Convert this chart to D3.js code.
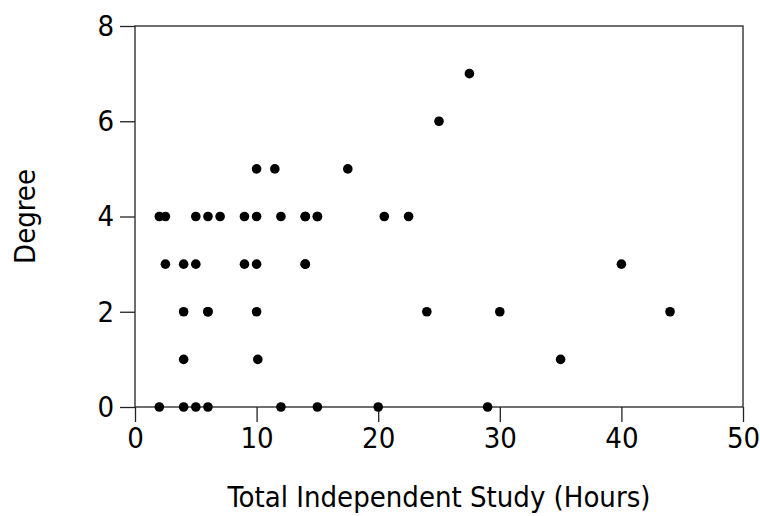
<!DOCTYPE html>
<html>
<head>
<meta charset="utf-8">
<script src="https://cdn.jsdelivr.net/npm/d3@7"></script>
<style>
  body { margin: 0; background: #fff; }
  text { font-family: "DejaVu Sans Condensed", "DejaVu Sans", sans-serif; }
</style>
</head>
<body>
<div id="chart"></div>
<script>
// hours of independent study vs degree
var hours = [2, 2.5, 5, 6, 7, 9, 10, 12, 14, 15, 14, 15, 20.5, 22.5,
             2.5, 4, 5, 9, 10, 14, 14,
             4, 6, 6, 10, 24, 30, 44,
             4, 10.1, 35,
             2, 4, 5, 6, 12, 15, 20, 29,
             10, 11.5, 17.5, 25, 27.5, 40];
var degree = [4, 4, 4, 4, 4, 4, 4, 4, 4, 4, 4, 4, 4, 4,
              3, 3, 3, 3, 3, 3, 3,
              2, 2, 2, 2, 2, 2, 2,
              1, 1, 1,
              0, 0, 0, 0, 0, 0, 0, 0,
              5, 5, 5, 6, 7, 3];
var xTicks = [0, 10, 20, 30, 40, 50];
var yTicks = [0, 2, 4, 6, 8];

var margin = { top: 26, right: 17, bottom: 109, left: 135 },
    width = 760 - margin.left - margin.right,
    height = 516 - margin.top - margin.bottom;

var svg = d3.select("#chart")
    .append("svg")
    .attr("width", 760)
    .attr("height", 516)
    .append("g")
    .attr("transform", "translate(" + margin.left + "," + margin.top + ")");

var x = d3.scaleLinear().domain([0, 50]).range([0, width]);
var y = d3.scaleLinear().domain([0, 8]).range([height, 0]);

// frame
svg.append("rect")
    .attr("width", width)
    .attr("height", height)
    .attr("fill", "none")
    .attr("stroke", "#222")
    .attr("stroke-width", 1.3);

var xAxis = svg.append("g")
    .attr("transform", "translate(0," + height + ")")
    .call(d3.axisBottom(x).tickValues(xTicks).tickSize(15).tickPadding(5));

var yAxis = svg.append("g")
    .call(d3.axisLeft(y).tickValues(yTicks).tickSize(15).tickPadding(6));

[xAxis, yAxis].forEach(function (g) {
    g.select(".domain").remove();
    g.selectAll("line").attr("stroke", "#222").attr("stroke-width", 1.3);
    g.selectAll("text").attr("fill", "#000").style("font-size", "29px");
});

// points
svg.selectAll("circle")
    .data(hours.map(function (h, i) { return { h: h, d: degree[i] }; }))
    .join("circle")
    .attr("cx", d => x(d.h))
    .attr("cy", d => y(d.d))
    .attr("r", 4.8)
    .attr("fill", "#000");

svg.append("text")
    .attr("x", width / 2)
    .attr("y", height + 100)
    .attr("text-anchor", "middle")
    .style("font-size", "29px")
    .text("Total Independent Study (Hours)");

svg.append("text")
    .attr("transform", "translate(" + (-100) + "," + (height / 2) + ") rotate(-90)")
    .attr("text-anchor", "middle")
    .style("font-size", "29px")
    .text("Degree");
</script>
</body>
</html>
